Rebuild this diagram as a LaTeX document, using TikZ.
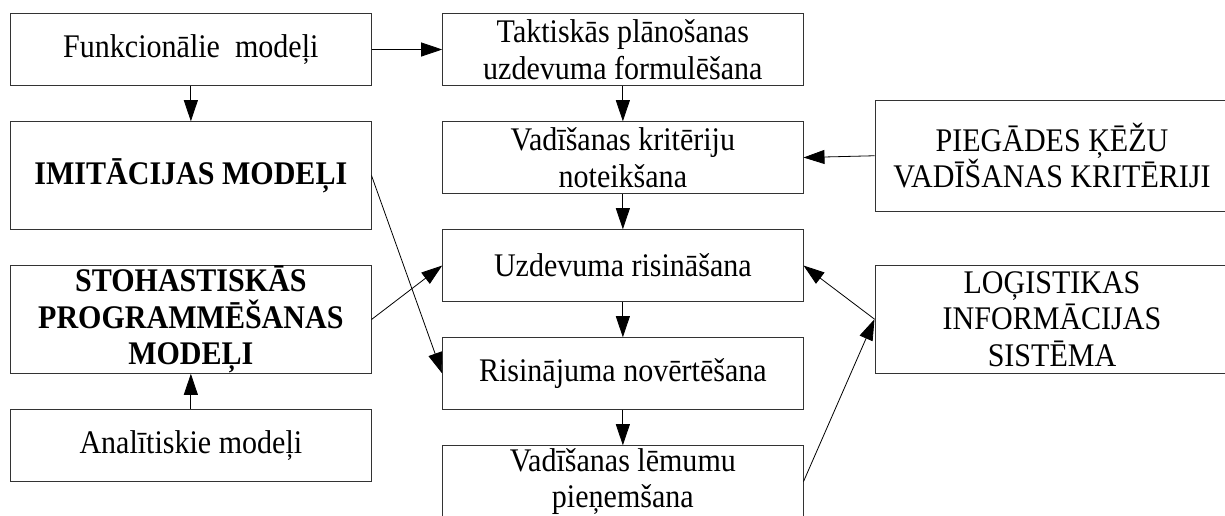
\documentclass[tikz,border=0pt]{standalone}
\usepackage{fontspec}
\setmainfont[FakeStretch=0.91]{Liberation Serif}
\usetikzlibrary{arrows.meta}
\begin{document}
\begin{tikzpicture}[x=1pt,y=-1pt,
  box/.style={draw=black!80, line width=1pt, rectangle, inner sep=0pt, align=center,
    font=\fontsize{33}{36.5}\selectfont},
  lbox/.style={box, minimum width=360.3pt},
  bold/.style={font=\fontsize{33}{36.5}\selectfont\bfseries},
  conn/.style={line width=0.8pt, -{Triangle[length=21pt,width=14pt]}}]
\path[use as bounding box, clip] (0,0) rectangle (1225,515);
% left column
\node[lbox, minimum height=71.6pt] (funk) at (190.85,49.5) {Funkcionālie\ \ modeļi};
\node[lbox, bold, minimum height=107.6pt] (imit) at (190.85,175.5) {IMITĀCIJAS MODEĻI};
\node[lbox, bold, minimum height=107.6pt] (stoh) at (190.85,319.5) {STOHASTISKĀS\\PROGRAMMĒŠANAS\\MODEĻI};
\node[lbox, minimum height=71.7pt] (anal) at (190.85,445.2) {Analītiskie modeļi};
% middle column
\node[lbox, minimum height=71.6pt] (takt) at (622.85,49.5) {Taktiskās plānošanas\\uzdevuma formulēšana};
\node[lbox, minimum height=71.6pt] (vadk) at (622.85,157.5) {Vadīšanas kritēriju\\noteikšana};
\node[lbox, minimum height=71.6pt] (uzd) at (622.85,265.5) {Uzdevuma risināšana};
\node[lbox, minimum height=71.6pt] (risn) at (622.85,373.5) {Risinājuma novērtēšana};
\node[lbox, minimum height=71.6pt] (lem) at (622.85,481.5) {Vadīšanas lēmumu\\pieņemšana};
% right column
\node[box, minimum width=354pt, minimum height=111.5pt] (pieg) at (1052,155.75) {PIEGĀDES ĶĒŽU\\VADĪŠANAS KRITĒRIJI};
\node[box, minimum width=354pt, minimum height=108.3pt] (log) at (1052,319.15) {LOĢISTIKAS\\INFORMĀCIJAS\\SISTĒMA};
% connectors
\draw[conn] (funk) -- (imit);
\draw[conn] (anal) -- (stoh);
\draw[conn] (funk.east) -- (takt.west);
\draw[conn] (takt) -- (vadk);
\draw[conn] (vadk) -- (uzd);
\draw[conn] (uzd) -- (risn);
\draw[conn] (risn) -- (lem);
\draw[conn] (imit.east) -- (risn.west);
\draw[conn] (stoh.east) -- (uzd.west);
\draw[conn] (pieg.west) -- (vadk.east);
\draw[conn] (log.west) -- (uzd.east);
\draw[conn] (lem.east) -- (log.west);
\end{tikzpicture}
\end{document}
